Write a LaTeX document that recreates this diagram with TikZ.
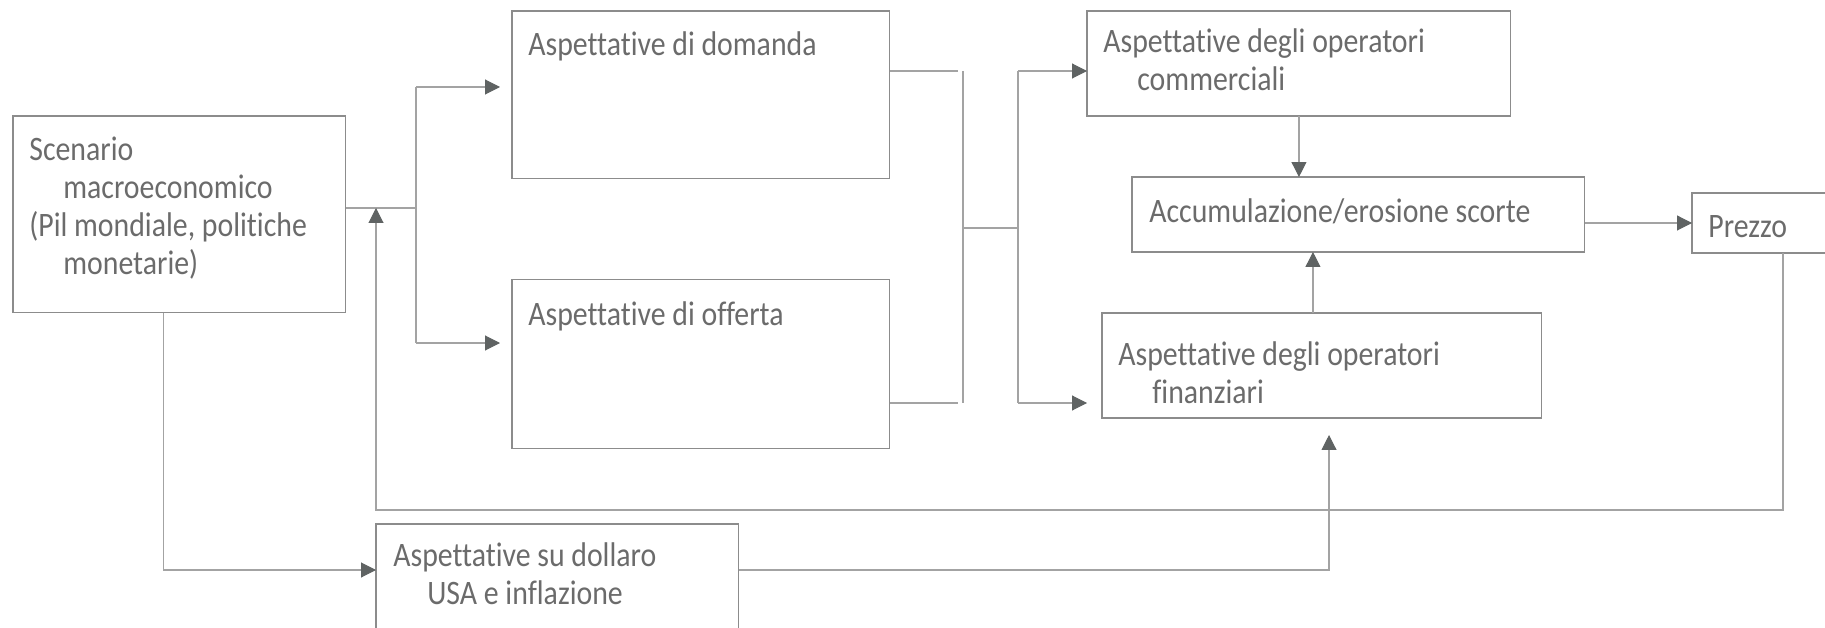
\documentclass[tikz,border=0pt]{standalone}
\usepackage{fontspec}
\setmainfont{Carlito}[FakeStretch=0.87,Ligatures=NoCommon]
\usetikzlibrary{arrows.meta,positioning}
\definecolor{linegray}{HTML}{A3A3A3}
\definecolor{boxgray}{HTML}{8C8C8C}
\definecolor{tipgray}{HTML}{5F6363}
\definecolor{textgray}{HTML}{6B6B6B}
\newcommand{\hangin}{\hspace*{0.68cm}}
\tikzstyle{box}=[rectangle,draw=boxgray,line width=0.6pt,inner sep=0pt,outer sep=0pt]
\tikzstyle{txt}=[anchor=north west,inner sep=0pt,align=left,text=textgray,
font=\fontsize{19.5pt}{21.6pt}\selectfont,execute at begin node=\strut]
\tikzstyle{flow}=[draw=linegray,line width=0.6pt,-{Triangle[length=0.3cm,width=0.3cm,color=tipgray]}]
\tikzstyle{wire}=[draw=linegray,line width=0.6pt]
\begin{document}
\begin{tikzpicture}[x=0.02cm,y=-0.02cm]
            \useasboundingbox (0,0) rectangle (1825,628);

            % SCENARIO PART

            \node[box,anchor=north west,minimum width=6.66cm,minimum height=3.94cm,
                label={[txt,xshift=0.32cm,yshift=-0.41cm]north west:{Scenario\\\hangin macroeconomico\\(Pil mondiale, politiche\\\hangin monetarie)}}] (scen) at (13,116) {};
            \node[box,anchor=north west,minimum width=7.26cm,minimum height=2.40cm,
                label={[txt,xshift=0.34cm,yshift=-0.37cm]north west:{Aspettative su dollaro\\\hangin USA e inflazione}}] (usd) at (376,524) {};

            % DEMAND / SUPPLY PART

            \node[box,anchor=north west,minimum width=7.56cm,minimum height=3.36cm,
                label={[txt,xshift=0.32cm,yshift=-0.35cm]north west:{Aspettative di domanda}}] (dom) at (512,11) {};
            \node[box,below=2.02cm of dom,minimum width=7.56cm,minimum height=3.38cm,
                label={[txt,xshift=0.32cm,yshift=-0.37cm]north west:{Aspettative di offerta}}] (off) {};

            % OPERATORS PART

            \node[box,anchor=north west,minimum width=8.48cm,minimum height=2.10cm,
                label={[txt,xshift=0.32cm,yshift=-0.35cm]north west:{Aspettative degli operatori\\\hangin commerciali}}] (comm) at (1087,11) {};
            \node[box,anchor=north west,minimum width=9.06cm,minimum height=1.50cm,
                label={[txt,xshift=0.34cm,yshift=-0.37cm]north west:{Accumulazione/erosione scorte}}] (acc) at (1132,177) {};
            \node[box,anchor=north west,minimum width=8.80cm,minimum height=2.10cm,
                label={[txt,xshift=0.32cm,yshift=-0.57cm]north west:{Aspettative degli operatori\\\hangin finanziari}}] (fin) at (1102,313) {};
            \node[box,anchor=north west,minimum width=3.64cm,minimum height=1.20cm,
                label={[txt,xshift=0.32cm,yshift=-0.35cm]north west:{Prezzo}}] (prz) at (1692,193) {};

            % Bend points

            \coordinate (br) at (416,208);
            \coordinate (bt) at (416,87);
            \coordinate (bb) at (416,343);
            \coordinate (m1) at (963,71);
            \coordinate (m2) at (963,403);
            \coordinate (mc) at (963,228);
            \coordinate (s1) at (1018,71);
            \coordinate (s2) at (1018,403);
            \coordinate (sc) at (1018,228);
            \coordinate (fb) at (376,510);
            \coordinate (ua) at (376,570);
            \coordinate (ft) at (1329,435);

            % Connections

            \draw[wire] (scen.east |- br) -- (br);
            \draw[wire] (bt) -- (bb);
            \draw[flow] (bt) -- ([xshift=-0.24cm]dom.west |- bt);
            \draw[flow] (bb) -- ([xshift=-0.24cm]off.west |- bb);
            \draw[wire] (dom.east |- m1) -- ([xshift=-0.1cm]m1);
            \draw[wire] (off.east |- m2) -- ([xshift=-0.1cm]m2);
            \draw[wire] (m1) -- (m2);
            \draw[wire] (mc) -- (sc);
            \draw[wire] (s1) -- (s2);
            \draw[flow] (s1) -- (comm.west |- s1);
            \draw[flow] (s2) -- ([xshift=-0.3cm]fin.west |- s2);
            \draw[flow] (comm.south) -- (comm.south |- acc.north);
            \draw[flow] ([xshift=-0.18cm]fin.north) -- ([xshift=-0.18cm]fin.north |- acc.south);
            \draw[flow] (acc.east |- prz.west) -- (prz.west);

            % Feedback and dollar

            \draw[flow] (prz.south) |- (fb) -- (fb |- br);
            \draw[flow] ([xshift=-0.31cm]scen.south) |- (usd.west |- ua);
            \draw[flow] (usd.east |- ua) -| (ft);

\end{tikzpicture}
\end{document}
